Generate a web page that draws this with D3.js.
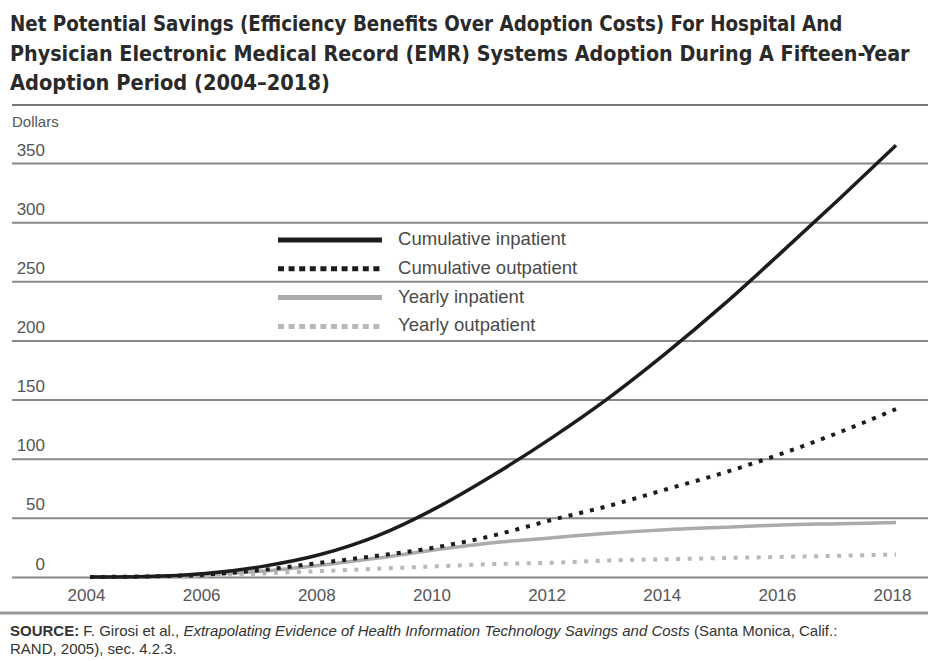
<!DOCTYPE html>
<html>
<head>
<meta charset="utf-8">
<script src="https://cdn.jsdelivr.net/npm/d3@7"></script>
<style>
  body { margin: 0; background: #fff; }
  svg { display: block; font-family: "Liberation Sans", Arial, sans-serif; }
</style>
</head>
<body>
<div class="chartHolder"></div>
<script>
// data
const years = [2004, 2005, 2006, 2007, 2008, 2009, 2010, 2011, 2012, 2013, 2014, 2015, 2016, 2017, 2018];
const cumulativeInpatient = [0, 0.5, 3, 9, 19, 35, 58, 86, 117, 151, 189, 230, 274, 319, 365];
const cumulativeOutpatient = [0, 0.5, 2, 6, 12, 18, 25, 35, 48, 60, 74, 88, 104, 122, 142];
const yearlyInpatient = [0, 0.3, 2, 5, 10, 16, 23, 29, 33, 37, 40, 42, 44, 45, 46];
const yearlyOutpatient = [0, 0.2, 1, 3, 5, 7, 9, 11, 12, 14, 15, 16, 17, 18, 19];
const seriesNames = ["Cumulative inpatient", "Cumulative outpatient", "Yearly inpatient", "Yearly outpatient"];
const yTicks = [0, 50, 100, 150, 200, 250, 300, 350];
const xTicks = [2004, 2006, 2008, 2010, 2012, 2014, 2016, 2018];
const titleLines = [
  "Net Potential Savings (Efficiency Benefits Over Adoption Costs) For Hospital And",
  "Physician Electronic Medical Record (EMR) Systems Adoption During A Fifteen-Year",
  "Adoption Period (2004\u20132018)"
];

const fullWidth = 928;
const fullHeight = 661;

const svg = d3.select(".chartHolder")
  .append("svg")
  .attr("width", fullWidth)
  .attr("height", fullHeight);

// shrink/grow a text's font so it spans the wanted width
function fitWidth(sel, target, start) {
  sel.style("font-size", start + "px");
  const w = sel.node().getComputedTextLength();
  const size = start * target / w;
  sel.style("font-size", size + "px");
  return size;
}

// title
const titleWidths = [833, 900, 320];
titleLines.forEach((line, i) => {
  const t = svg.append("text")
    .attr("x", 10)
    .attr("y", 31 + i * 29.5)
    .attr("fill", "#2a2a2a")
    .style("font-family", "'Liberation Sans Narrow', 'DejaVu Sans Condensed', 'Liberation Sans', sans-serif")
    .style("font-weight", "bold")
    .text(line);
  fitWidth(t, titleWidths[i], 22);
});

svg.append("line")
  .attr("x1", 12).attr("x2", fullWidth)
  .attr("y1", 105).attr("y2", 105)
  .attr("stroke", "#777")
  .attr("stroke-width", 2);

const xScale = d3.scaleLinear()
  .domain([2004, 2018])
  .range([90, 896]);
const yScale = d3.scaleLinear()
  .domain([0, 350])
  .range([577, 163]);

// y gridlines with labels sitting on top
const yAxis = d3.axisLeft(yScale)
  .tickValues(yTicks)
  .tickSize(-(fullWidth - 12))
  .tickFormat(d3.format("d"));
const gy = svg.append("g")
  .attr("id", "y-axis")
  .attr("transform", "translate(12,0)")
  .call(yAxis);
gy.select(".domain").remove();
gy.selectAll(".tick line")
  .attr("stroke", "#888")
  .attr("stroke-width", 2);
gy.selectAll(".tick text")
  .attr("x", 33)
  .attr("dy", -8)
  .attr("text-anchor", "end")
  .attr("fill", "#555")
  .style("font-size", "17px")
  .style("font-family", "'Liberation Sans', sans-serif");

svg.append("text")
  .attr("x", 12)
  .attr("y", 127)
  .attr("fill", "#555")
  .style("font-size", "15px")
  .text("Dollars");

const xAxis = d3.axisBottom(xScale)
  .tickValues(xTicks)
  .tickSize(0)
  .tickPadding(12)
  .tickFormat(d3.format("d"));
const gx = svg.append("g")
  .attr("id", "x-axis")
  .attr("transform", "translate(-4,577)")
  .call(xAxis);
gx.select(".domain").remove();
gx.selectAll(".tick text")
  .attr("fill", "#555")
  .style("font-size", "17px")
  .style("font-family", "'Liberation Sans', sans-serif");

// lines
const styles = [
  { color: "#1c1c1c", width: 3.5, dash: null, legendDash: null },
  { color: "#1c1c1c", width: 4, dash: "4,7", legendDash: "6,4.6" },
  { color: "#ababab", width: 3.5, dash: null, legendDash: null },
  { color: "#b8b8b8", width: 4, dash: "4,7.5", legendDash: "6,4.6" }
];
const seriesValues = [cumulativeInpatient, cumulativeOutpatient, yearlyInpatient, yearlyOutpatient];

const line = d3.line()
  .x((d, i) => xScale(years[i]))
  .y(d => yScale(d))
  .curve(d3.curveMonotoneX);

// draw yearly ones first so black lines sit on top
[3, 2, 1, 0].forEach(k => {
  svg.append("path")
    .datum(seriesValues[k])
    .attr("class", "series")
    .attr("fill", "none")
    .attr("stroke", styles[k].color)
    .attr("stroke-width", styles[k].width)
    .attr("stroke-dasharray", styles[k].dash)
    .attr("d", line);
});

// legend
const legend = svg.append("g")
  .attr("transform", "translate(278,240)");
let legendSize = null;
seriesNames.forEach((name, i) => {
  const row = legend.append("g")
    .attr("transform", "translate(0," + (i * 28.8) + ")");
  row.append("line")
    .attr("x1", 0).attr("x2", 104)
    .attr("stroke", styles[i].color)
    .attr("stroke-width", 5)
    .attr("stroke-dasharray", styles[i].legendDash);
  const t = row.append("text")
    .attr("x", 120)
    .attr("y", 5)
    .attr("fill", "#4a4a4a")
    .text(name);
  if (legendSize === null) {
    legendSize = fitWidth(t, 168, 16);
  } else {
    t.style("font-size", legendSize + "px");
  }
});

// bottom rule and source
svg.append("line")
  .attr("x1", 0).attr("x2", fullWidth)
  .attr("y1", 613).attr("y2", 613)
  .attr("stroke", "#999")
  .attr("stroke-width", 3);

const src = svg.append("text")
  .attr("x", 10)
  .attr("y", 636)
  .attr("fill", "#333")
  .style("font-family", "'Liberation Sans Narrow', 'Liberation Sans', sans-serif");
src.append("tspan").style("font-weight", "bold").text("SOURCE:");
src.append("tspan").text(" F. Girosi et al., ");
src.append("tspan").style("font-style", "italic")
  .text("Extrapolating Evidence of Health Information Technology Savings and Costs");
src.append("tspan").text(" (Santa Monica, Calif.:");
const srcSize = fitWidth(src, 828, 12);

svg.append("text")
  .attr("x", 10)
  .attr("y", 654)
  .attr("fill", "#333")
  .style("font-family", "'Liberation Sans Narrow', 'Liberation Sans', sans-serif")
  .style("font-size", srcSize + "px")
  .text("RAND, 2005), sec. 4.2.3.");
</script>
</body>
</html>
